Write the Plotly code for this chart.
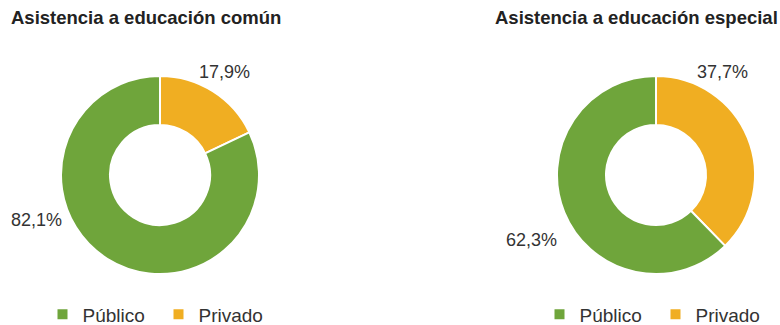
import plotly.graph_objects as go

# Distribución de la asistencia por sector de gestión
sectores = ["Público", "Privado"]
comun = [82.1, 17.9]
especial = [62.3, 37.7]
titulos = ["Asistencia a educación común", "Asistencia a educación especial"]

colores = ["#6fa53b", "#f0ae22"]
fuente = "Liberation Sans, Arial, Helvetica, sans-serif"
W, H = 780, 325


def fmt(v):
    return f"{v:.1f}".replace(".", ",") + "%"


def px_x(x):
    return x / W


def px_y(y):
    return 1 - y / H


fig = go.Figure()

# Cada anillo necesita sus propias entradas de leyenda: las etiquetas del
# segundo llevan un carácter invisible para que no se fusionen con las del primero.
# El sector privado se dibuja primero, desde las 12 en sentido horario;
# la leyenda se invierte para mostrar Público antes que Privado.
paneles = [
    dict(vals=comun, cx=160, legend="legend", sufijo=""),
    dict(vals=especial, cx=656, legend="legend2", sufijo="\u200b"),
]
R = 99
CY = 175

for p in paneles:
    fig.add_trace(go.Pie(
        labels=[s + p["sufijo"] for s in sectores][::-1],
        values=p["vals"][::-1],
        hole=0.505,
        sort=False,
        direction="clockwise",
        rotation=0,
        textinfo="none",
        hoverinfo="label+percent",
        marker=dict(colors=colores[::-1], line=dict(color="white", width=2)),
        domain=dict(x=[px_x(p["cx"] - R), px_x(p["cx"] + R)],
                    y=[px_y(CY + R), px_y(CY - R)]),
        legend=p["legend"],
    ))

# Etiquetas de porcentaje fuera de cada anillo
etiquetas = [
    (comun[1], 225, 72),
    (comun[0], 36, 220),
    (especial[1], 722, 72),
    (especial[0], 531, 240),
]
for v, x, y in etiquetas:
    fig.add_annotation(text=fmt(v), x=px_x(x), y=px_y(y), xref="paper", yref="paper",
                       showarrow=False, xanchor="center", yanchor="middle",
                       font=dict(family=fuente, size=18, color="#333333"))

# Títulos
for t, x in zip(titulos, [9, 493]):
    fig.add_annotation(text=f"<b>{t}</b>", x=px_x(x), y=px_y(18), xref="paper", yref="paper",
                       showarrow=False, xanchor="left", yanchor="middle",
                       font=dict(family=fuente, size=18.5, color="#222222"))

leg = dict(orientation="h", yanchor="middle", y=px_y(314.5), xanchor="left",
           font=dict(family=fuente, size=19, color="#333333"),
           bgcolor="rgba(0,0,0,0)", traceorder="reversed", itemclick=False,
           entrywidth=71)

fig.update_layout(
    width=W, height=H,
    margin=dict(l=0, r=0, t=0, b=0, autoexpand=False),
    paper_bgcolor="white",
    plot_bgcolor="white",
    legend=dict(leg, x=px_x(42.5)),
    legend2=dict(leg, x=px_x(539.5)),
)

fig.write_html("out.html")
